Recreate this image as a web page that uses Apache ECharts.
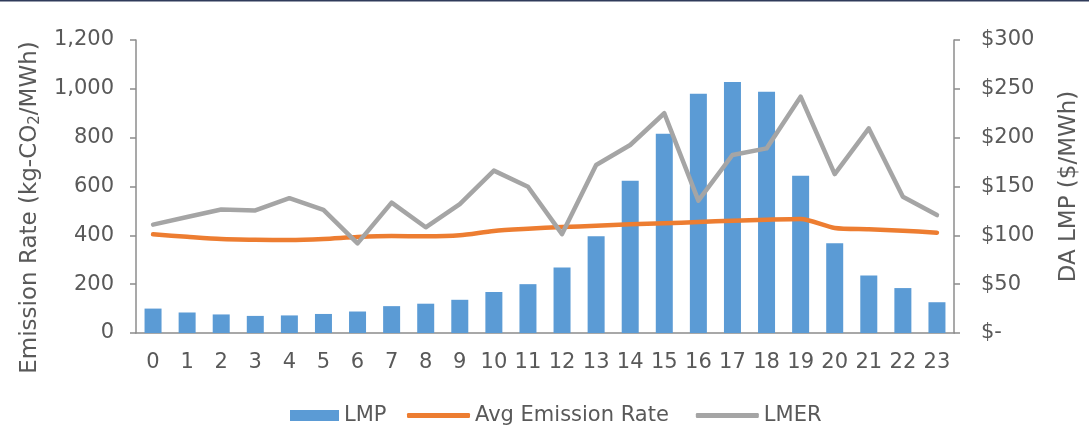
<!DOCTYPE html>
<html>
<head>
<meta charset="utf-8">
<script src="https://cdn.jsdelivr.net/npm/echarts@6/dist/echarts.min.js"></script>
<style>
  html, body { margin: 0; padding: 0; background: #fff; }
  #chart { width: 1089px; height: 432px; }
</style>
</head>
<body>
<div id="chart"></div>
<script>
// Hour of day
const hours = ['0','1','2','3','4','5','6','7','8','9','10','11','12','13','14','15','16','17','18','19','20','21','22','23'];
// Day-ahead LMP ($/MWh), right axis
const lmp = [25, 21, 19, 17.5, 18, 19.5, 22, 27.5, 30, 34, 42, 50, 67, 99, 156, 204, 245, 257, 247, 161, 92, 59, 46, 31.5];
// Average emission rate (kg-CO2/MWh), left axis
const avgEmission = [404, 394, 385, 382, 381, 385, 393, 397, 396, 400, 418, 427, 434, 439, 445, 449, 455, 460, 464, 467, 430, 425, 419, 411];
// Locational marginal emission rate (kg-CO2/MWh), left axis
const lmer = [444, 475, 506, 502, 552, 504, 367, 534, 433, 528, 665, 599, 405, 688, 770, 900, 542, 729, 756, 968, 651, 838, 558, 483];

const leftTicks = { min: 0, max: 1200, interval: 200 };
const rightTicks = { min: 0, max: 300, interval: 50 };

const FONT = 'DejaVu Sans';
const TEXT = '#595959';
const AXIS = '#8c8c8c';
const legendText = { fontFamily: FONT, fontSize: 21, color: TEXT };

const chart = echarts.init(document.getElementById('chart'), null, { renderer: 'canvas' });

chart.setOption({
  animation: false,
  textStyle: { fontFamily: FONT, color: TEXT },
  graphic: [
    { type: 'rect', shape: { x: 0, y: 0, width: 1089, height: 1.5 }, style: { fill: '#2f3b5a' } }
  ],
  grid: { left: 136, right: 135, top: 40, bottom: 99, containLabel: false },
  legend: [
    {
      left: 285,
      top: 400,
      itemWidth: 49,
      itemHeight: 11,
      itemGap: 4,
      textStyle: legendText,
      data: [{ name: 'LMP', icon: 'rect' }]
    },
    {
      left: 402,
      top: 400,
      itemWidth: 63,
      itemHeight: 5,
      itemGap: 27,
      textStyle: legendText,
      data: [
        { name: 'Avg Emission Rate', icon: 'roundRect' },
        { name: 'LMER', icon: 'roundRect' }
      ]
    }
  ],
  xAxis: {
    type: 'category',
    data: hours,
    axisLine: { lineStyle: { color: AXIS, width: 1.5 } },
    axisTick: { show: false },
    axisLabel: { fontFamily: FONT, fontSize: 21, color: TEXT, margin: 19, interval: 0 }
  },
  yAxis: [
    {
      type: 'value',
      min: leftTicks.min, max: leftTicks.max, interval: leftTicks.interval,
      name: 'Emission Rate (kg-CO{sub|2}/MWh)',
      nameLocation: 'middle',
      nameGap: 92,
      nameTextStyle: {
        fontFamily: FONT, fontSize: 23, color: TEXT,
        padding: [0, 42, 0, 0],
        rich: { sub: { fontFamily: FONT, fontSize: 15, color: TEXT, verticalAlign: 'bottom', padding: [10, 0, 0, 0] } }
      },
      axisLine: { show: true, lineStyle: { color: AXIS, width: 1.5 } },
      axisTick: { show: true, inside: false, length: 6, lineStyle: { color: AXIS, width: 1.5 } },
      splitLine: { show: false },
      axisLabel: {
        fontFamily: FONT, fontSize: 21, color: TEXT, margin: 22,
        formatter: v => v.toLocaleString('en-US')
      }
    },
    {
      type: 'value',
      position: 'right',
      min: rightTicks.min, max: rightTicks.max, interval: rightTicks.interval,
      name: 'DA LMP ($/MWh)',
      nameLocation: 'middle',
      nameGap: 104,
      nameTextStyle: { fontFamily: FONT, fontSize: 23, color: TEXT },
      axisLine: { show: true, lineStyle: { color: AXIS, width: 1.5 } },
      axisTick: { show: true, inside: false, length: 6, lineStyle: { color: AXIS, width: 1.5 } },
      splitLine: { show: false },
      axisLabel: {
        fontFamily: FONT, fontSize: 21, color: TEXT, margin: 27,
        formatter: v => v === 0 ? '$-' : '$' + v
      }
    }
  ],
  series: [
    {
      name: 'LMP',
      type: 'bar',
      yAxisIndex: 1,
      data: lmp,
      barWidth: 17,
      itemStyle: { color: '#5b9bd5' }
    },
    {
      name: 'Avg Emission Rate',
      type: 'line',
      yAxisIndex: 0,
      data: avgEmission,
      symbol: 'none',
      smooth: 0.25,
      lineStyle: { color: '#ed7d31', width: 4.5, cap: 'round', join: 'round' },
      itemStyle: { color: '#ed7d31' }
    },
    {
      name: 'LMER',
      type: 'line',
      yAxisIndex: 0,
      data: lmer,
      symbol: 'none',
      lineStyle: { color: '#a5a5a5', width: 4.5, cap: 'round', join: 'round' },
      itemStyle: { color: '#a5a5a5' }
    }
  ]
});
</script>
</body>
</html>
